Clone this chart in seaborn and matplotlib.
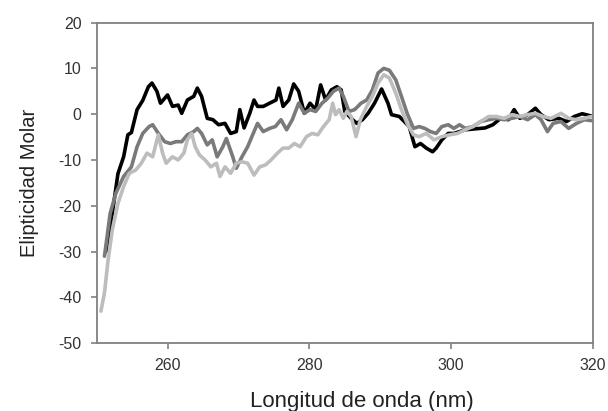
import matplotlib
matplotlib.use("Agg")
import matplotlib.pyplot as plt
import seaborn as sns
import pandas as pd

# Series: black
black_x = [251.3, 252.2, 253.0, 253.8, 254.4, 254.9, 255.7, 256.5, 257.3, 257.8, 258.5, 259.0, 260.0, 260.7,
           261.5, 262.0, 262.8, 263.7, 264.2, 264.8, 265.6, 266.4, 267.2, 268.1, 268.9, 269.7, 270.2, 270.8,
           271.6, 272.2, 272.7, 273.5, 274.4, 275.3, 275.7, 276.3, 277.1, 277.8, 278.5, 279.3, 280.1, 280.9,
           281.6, 282.3, 283.1, 283.9, 284.5, 285.0, 285.9, 286.7, 287.5, 288.3, 289.2, 290.2, 291.1, 291.6,
           292.7, 294.1, 294.9, 295.7, 296.5, 297.4, 297.9, 298.7, 299.6, 300.4, 302.0, 304.8, 305.9, 307.0,
           308.1, 308.9, 309.7, 310.8, 311.9, 312.7, 313.8, 315.2, 316.3, 317.4, 318.5, 319.8]
black_y = [-30.0, -21.7, -13.0, -9.3, -4.5, -4.0, 1.0, 3.0, 6.0, 6.8, 5.0, 2.4, 4.2, 1.7,
           2.0, 0.2, 3.1, 3.9, 5.7, 3.9, -0.9, -1.2, -2.3, -2.0, -4.2, -3.8, 1.0, -3.0,
           0.2, 3.1, 1.7, 1.7, 2.4, 3.1, 5.7, 1.7, 3.1, 6.6, 5.0, 0.2, 2.4, 1.0,
           6.4, 3.1, 5.3, 6.0, 5.3, 0.6, -0.9, -2.0, -1.2, 0.2, 2.4, 5.5, 2.4, -0.1,
           -0.5, -2.7, -7.1, -6.4, -7.4, -8.2, -7.4, -5.6, -4.2, -4.2, -3.4, -3.0, -2.3, -0.9,
           -1.2, 1.0, -0.9, -0.1, 1.3, -0.1, -1.2, -0.9, -1.6, -0.5, 0.1, -0.4]

# Series: dark gray
gray_x = [251.1, 251.9, 252.7, 253.8, 254.9, 255.7, 256.5, 257.4, 257.9, 258.7, 259.6, 260.4, 261.2, 262.0,
          262.8, 263.7, 264.2, 264.8, 265.6, 266.3, 267.0, 267.8, 268.3, 269.2, 269.7, 270.5, 271.3, 272.2,
          272.7, 273.5, 274.4, 275.2, 276.0, 276.8, 277.6, 278.5, 279.3, 280.1, 280.9, 281.8, 282.6, 283.4,
          284.2, 284.8, 285.6, 286.4, 287.3, 288.1, 288.9, 289.7, 290.5, 291.3, 292.2, 293.0, 293.8, 294.7,
          295.5, 296.3, 297.1, 297.9, 298.7, 299.6, 300.4, 301.2, 302.0, 303.1, 304.2, 305.3, 306.4, 307.5,
          308.6, 309.7, 310.8, 311.9, 312.7, 313.6, 314.4, 315.5, 316.6, 317.7, 318.8, 319.8]
gray_y = [-31.0, -21.7, -17.3, -13.6, -11.5, -7.1, -4.2, -2.7, -2.3, -4.2, -6.0, -6.4, -6.0, -6.0,
          -4.5, -3.8, -3.1, -4.2, -6.7, -5.6, -9.3, -7.1, -5.3, -9.3, -11.8, -9.3, -7.1, -3.8,
          -2.0, -3.8, -3.1, -2.7, -1.2, -3.4, -1.2, 2.4, 0.2, 1.0, 0.6, 2.4, 3.5, 5.0,
          5.7, 3.9, 0.6, 1.0, 2.4, 3.1, 5.3, 9.0, 10.0, 9.6, 7.5, 3.9, 0.2, -3.1,
          -2.7, -3.1, -3.8, -4.2, -2.7, -2.3, -3.1, -2.3, -3.1, -2.7, -1.6, -1.2, -0.9, -1.2,
          -0.9, -0.5, -1.2, -0.1, -1.2, -3.8, -2.0, -1.6, -3.1, -2.0, -1.2, -1.4]

# Series: light gray
light_x = [250.6, 251.1, 251.6, 252.2, 253.0, 253.8, 254.6, 255.5, 256.3, 257.1, 257.9, 258.7, 259.3, 259.8,
           260.7, 261.5, 262.3, 262.8, 263.4, 263.9, 264.5, 265.3, 266.1, 266.9, 267.4, 268.1, 268.9, 269.7,
           270.5, 271.3, 272.2, 273.0, 273.8, 274.6, 275.5, 276.3, 277.1, 277.9, 278.7, 279.6, 280.4, 281.2,
           282.0, 282.8, 283.3, 283.7, 284.2, 284.8, 285.3, 285.9, 286.6, 287.2, 288.1, 288.9, 289.7, 290.5,
           291.3, 292.2, 293.0, 293.8, 294.7, 295.5, 296.5, 297.6, 298.7, 299.8, 300.9, 302.0, 303.1, 304.2,
           305.3, 306.4, 307.5, 308.6, 309.7, 310.8, 311.9, 313.0, 314.1, 315.5, 316.6, 317.7, 318.8, 319.8]
light_y = [-43.0, -39.0, -32.0, -25.3, -19.5, -15.8, -12.9, -12.2, -10.7, -8.5, -9.3, -4.5, -8.5, -10.7,
           -9.3, -10.0, -8.5, -5.6, -4.2, -7.1, -8.9, -10.0, -11.5, -10.7, -13.6, -11.5, -12.9, -10.7,
           -10.4, -10.7, -13.3, -11.5, -11.1, -10.0, -8.5, -7.4, -7.4, -6.4, -7.1, -4.9, -4.2, -4.5,
           -2.7, -1.2, 2.4, -0.1, 1.0, -0.9, 0.6, -0.5, -4.9, -1.2, 1.7, 3.9, 6.8, 8.6,
           7.9, 4.6, 1.0, -2.0, -4.5, -4.9, -4.2, -5.6, -4.9, -4.5, -4.2, -3.4, -2.7, -1.6,
           -0.5, -0.5, -0.9, -0.1, -0.5, -0.1, 0.2, -0.5, -0.9, 0.2, -0.9, -1.2, -0.9, -0.5]

x_ticks = [260, 280, 300, 320]
y_ticks = [-50, -40, -30, -20, -10, 0, 10, 20]

sns.set_theme(style="white")
plt.rcParams['font.family'] = ['Liberation Sans', 'DejaVu Sans']

fig = plt.figure(figsize=(6.08, 4.11), dpi=100)
ax = fig.add_axes([0.159, 0.165, 0.816, 0.780])

series = [(black_x, black_y, "#000000"), (gray_x, gray_y, "#7a7a7a"), (light_x, light_y, "#bdbdbd")]
for xs, ys, c in series:
    df = pd.DataFrame({"x": xs, "y": ys})
    sns.lineplot(data=df, x="x", y="y", ax=ax, color=c, linewidth=2.6, sort=False, estimator=None)

ax.set_xlim(250, 320)
ax.set_ylim(-50, 20)
ax.set_xticks(x_ticks)
ax.set_yticks(y_ticks)
ax.set_xticklabels([str(v) for v in x_ticks])
ax.set_yticklabels([str(v) for v in y_ticks])
ax.tick_params(axis='both', direction='out', length=4, width=1.2, color='#808080',
               labelsize=11.5, labelcolor='#333333', pad=7, bottom=True, left=True)
for s in ax.spines.values():
    s.set_color('#808080')
    s.set_linewidth(1.3)
    s.set_visible(True)
ax.set_xlabel("Longitud de onda (nm)", fontsize=16, color='#222222', labelpad=8)
ax.xaxis.set_label_coords(0.535, -0.15)
ax.xaxis.label.set_va('top')
ax.set_ylabel("Elipticidad Molar", fontsize=14.5, color='#222222', labelpad=14)
ax.grid(False)

fig.savefig("out.png", dpi=100)
